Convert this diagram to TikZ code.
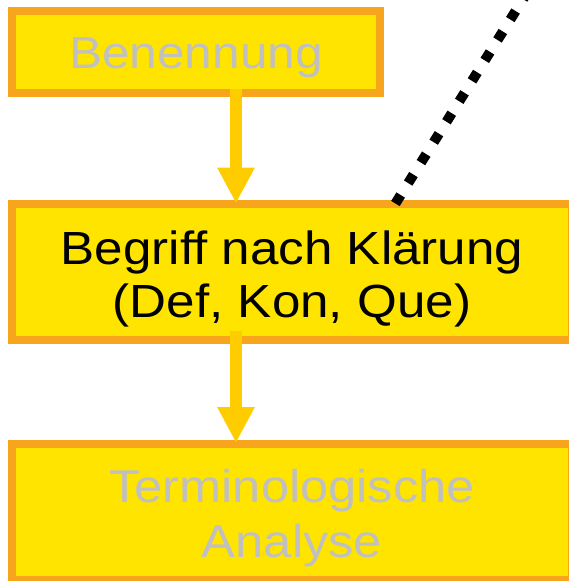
\documentclass[tikz,border=0pt]{standalone}
\usepackage{fontspec}
\setmainfont{Liberation Sans}[FakeStretch=1.1]
\usetikzlibrary{arrows.meta}
\definecolor{boxorange}{RGB}{248,165,30}
\definecolor{boxyellow}{RGB}{255,228,0}
\definecolor{arrowyellow}{RGB}{255,204,0}
\definecolor{txtgray}{RGB}{192,192,192}
\begin{document}
\begin{tikzpicture}[x=1pt,y=-1pt,
  box/.style={rectangle, draw=boxorange, fill=boxyellow, line width=8pt, inner sep=0pt, outer sep=0pt},
  txt/.style={align=center, inner sep=0pt, font=\fontsize{45}{54}\selectfont},
  flow/.style={draw=arrowyellow, line width=12pt, -{Triangle[width=35pt,length=36pt]}},
  dots/.style={draw=black, line width=10pt, dash pattern=on 10pt off 14.1pt}]
\useasboundingbox (0,0) rectangle (569,581);
\clip (0,0) rectangle (569,581);
\node[box, minimum width=368pt, minimum height=82pt,
  label={[txt, text=txtgray, yshift=-6pt]center:Benennung}] (ben) at (196,52) {};
\node[box, minimum width=560pt, minimum height=136pt,
  label={[txt, text=black, yshift=-7.5pt, font=\fontsize{46.5}{53}\selectfont]center:Begriff nach Klärung\\(Def, Kon, Que)}] (mid) at (292,271.5) {};
\node[box, minimum width=560pt, minimum height=136pt,
  label={[txt, text=txtgray, yshift=-6.5pt, font=\fontsize{46}{55}\selectfont]center:Terminologische\\Analyse}] (bot) at (292,512) {};
\coordinate (far) at (530,-12);
\draw[flow] ([xshift=40pt,yshift=4pt]ben.south) -- ([xshift=-56pt]mid.north);
\draw[flow] ([xshift=-56pt,yshift=9pt]mid.south) -- ([xshift=-56pt,yshift=1pt]bot.north);
\draw[dots] ([xshift=103.4pt]mid.north) -- (far);
\end{tikzpicture}
\end{document}
